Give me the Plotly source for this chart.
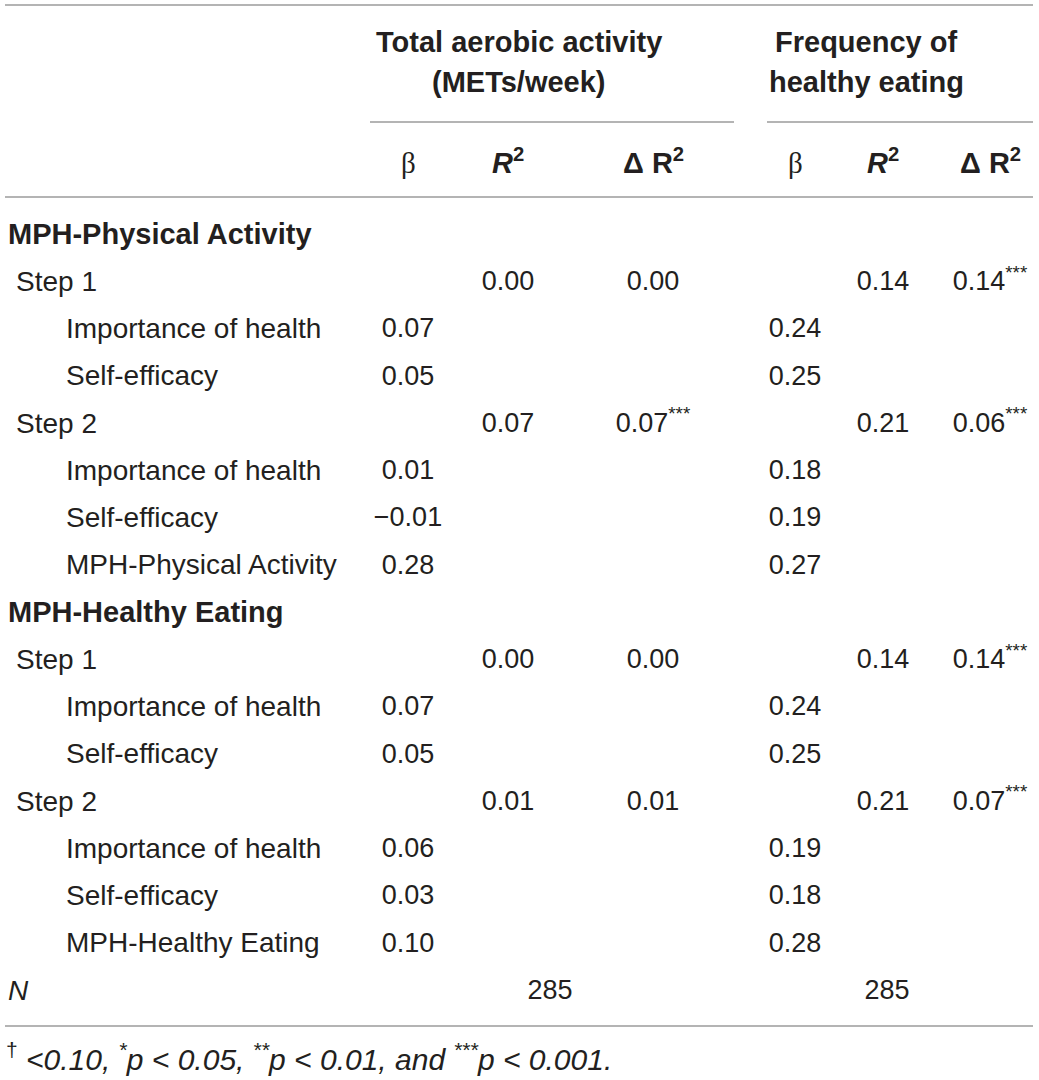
import plotly.graph_objects as go

# ---- table content -------------------------------------------------------
row_labels = ["MPH-Physical Activity", "Step 1", "Importance of health", "Self-efficacy",
              "Step 2", "Importance of health", "Self-efficacy", "MPH-Physical Activity",
              "MPH-Healthy Eating", "Step 1", "Importance of health", "Self-efficacy",
              "Step 2", "Importance of health", "Self-efficacy", "MPH-Healthy Eating"]
row_kind = ["section", "step", "pred", "pred", "step", "pred", "pred", "pred",
            "section", "step", "pred", "pred", "step", "pred", "pred", "pred"]

aerobic_beta = [None, None, 0.07, 0.05, None, 0.01, -0.01, 0.28,
                None, None, 0.07, 0.05, None, 0.06, 0.03, 0.10]
aerobic_r2 = [None, 0.00, None, None, 0.07, None, None, None,
              None, 0.00, None, None, 0.01, None, None, None]
aerobic_dr2 = [None, 0.00, None, None, 0.07, None, None, None,
               None, 0.00, None, None, 0.01, None, None, None]
aerobic_dr2_sig = ["", "", "", "", "***", "", "", "",
                   "", "", "", "", "", "", "", ""]

eating_beta = [None, None, 0.24, 0.25, None, 0.18, 0.19, 0.27,
               None, None, 0.24, 0.25, None, 0.19, 0.18, 0.28]
eating_r2 = [None, 0.14, None, None, 0.21, None, None, None,
             None, 0.14, None, None, 0.21, None, None, None]
eating_dr2 = [None, 0.14, None, None, 0.06, None, None, None,
              None, 0.14, None, None, 0.07, None, None, None]
eating_dr2_sig = ["", "***", "", "", "***", "", "", "",
                  "", "***", "", "", "***", "", "", ""]

n_values = [285, 285]

group_titles = [["Total aerobic activity", "(METs/week)"],
                ["Frequency of", "healthy eating"]]
footnote = ("<sup>†</sup> <i>&lt;0.10, <sup>*</sup>p &lt; 0.05, <sup>**</sup>p &lt; 0.01, "
            "and <sup>***</sup>p &lt; 0.001.</i>")

# ---- layout constants (pixels, y grows downward) -------------------------
W, H = 1039, 1080
FONT = "Liberation Sans, Arial, sans-serif"
INK = "#231f20"
RULE = "#9b9b9b"
NUM_SIZE = 27
LABEL_SIZE = 28
BOLD_SIZE = 29

row_y0, row_step = 234, 47.25
row_y = [row_y0 + i * row_step for i in range(len(row_labels))]
n_y = row_y0 + len(row_labels) * row_step
num_dy = 2  # numbers sit a touch lower to share the labels' baseline

col_x = {"a_beta": 408, "a_r2": 508, "a_dr2": 653,
         "e_beta": 795, "e_r2": 883, "e_dr2": 990}
indent = {"section": 6, "step": 14, "pred": 64}


def fmt(v, sig=""):
    if v is None:
        return None
    s = f"{v:.2f}".replace("-", "\u2212")
    if sig:
        s += f"<sup>{sig}</sup>"
    return s


fig = go.Figure()


def add_column(x, values, sigs=None):
    xs, ys, texts = [], [], []
    for i, v in enumerate(values):
        t = fmt(v, sigs[i] if sigs else "")
        if t is None:
            continue
        xs.append(x)
        ys.append(row_y[i] + num_dy)
        texts.append(t)
    fig.add_trace(go.Scatter(x=xs, y=ys, text=texts, mode="text",
                             textposition="middle center",
                             textfont=dict(family=FONT, size=NUM_SIZE, color=INK),
                             hoverinfo="skip", showlegend=False))


add_column(col_x["a_beta"], aerobic_beta)
add_column(col_x["a_r2"], aerobic_r2)
add_column(col_x["a_dr2"], aerobic_dr2, aerobic_dr2_sig)
add_column(col_x["e_beta"], eating_beta)
add_column(col_x["e_r2"], eating_r2)
add_column(col_x["e_dr2"], eating_dr2, eating_dr2_sig)

# N row
fig.add_trace(go.Scatter(x=[550, 887], y=[n_y + num_dy] * 2, text=[str(v) for v in n_values],
                         mode="text", textposition="middle center",
                         textfont=dict(family=FONT, size=NUM_SIZE, color=INK),
                         hoverinfo="skip", showlegend=False))

annotations = []


def label(x, y, text, anchor="left", size=LABEL_SIZE, family=FONT):
    annotations.append(dict(x=x, y=y, xref="x", yref="y", text=text,
                            showarrow=False, xanchor=anchor, yanchor="middle",
                            font=dict(family=family, size=size, color=INK)))


for i, (lab, kind) in enumerate(zip(row_labels, row_kind)):
    if kind == "section":
        label(indent[kind], row_y[i], f"<b>{lab}</b>", size=BOLD_SIZE)
    else:
        label(indent[kind], row_y[i], lab)
label(6, n_y, "<i>N</i>")

# group headers
for cx, lines in zip([519, 866], group_titles):
    label(cx, 42, f"<b>{lines[0]}</b>", anchor="center", size=BOLD_SIZE)
    label(cx, 82, f"<b>{lines[1]}</b>", anchor="center", size=BOLD_SIZE)

# sub headers
sub_y = 161
for key in ["a_beta", "e_beta"]:
    label(col_x[key], sub_y + 2, "β", anchor="center", size=29,
          family="Liberation Serif, serif")
for key in ["a_r2", "e_r2"]:
    label(col_x[key], sub_y, "<b><i>R</i><sup>2</sup></b>", anchor="center", size=BOLD_SIZE)
for key in ["a_dr2", "e_dr2"]:
    label(col_x[key], sub_y, "<b>Δ R<sup>2</sup></b>", anchor="center", size=BOLD_SIZE)

label(4, 1057, footnote, size=30)

shapes = []
for x0, x1, y in [(5, 1033, 5), (370, 734, 122), (767, 1033, 122),
                  (5, 1033, 197), (5, 1033, 1026)]:
    shapes.append(dict(type="line", xref="x", yref="y", x0=x0, x1=x1, y0=y, y1=y,
                       line=dict(color=RULE, width=1.6)))

fig.update_layout(
    width=W, height=H,
    margin=dict(l=0, r=0, t=0, b=0),
    paper_bgcolor="white", plot_bgcolor="white",
    xaxis=dict(range=[0, W], visible=False, fixedrange=True),
    yaxis=dict(range=[H, 0], visible=False, fixedrange=True),
    annotations=annotations, shapes=shapes,
)

fig.write_html("out.html", config={"displayModeBar": False},
               post_script="document.body.style.margin='0';")
